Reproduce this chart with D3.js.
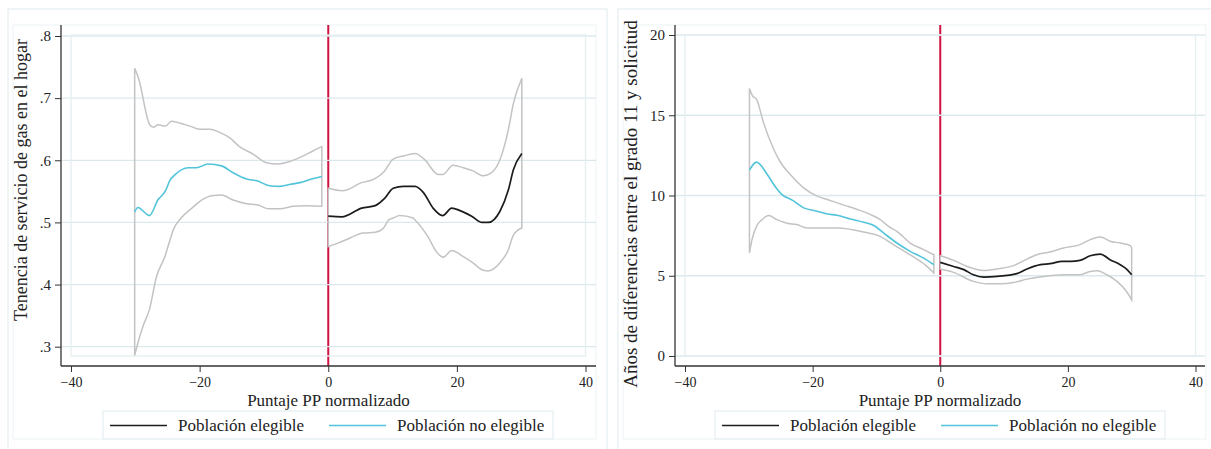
<!DOCTYPE html>
<html><head><meta charset="utf-8">
<script src="https://cdn.jsdelivr.net/npm/d3@7"></script>
<style>body{margin:0;background:#fff}svg{display:block}text{font-family:"Liberation Serif",serif;fill:#222}</style>
</head><body>
<svg id="c" width="1211" height="449"></svg>
<script>
// ---------- DATA ----------
const xTicks = [-40, -20, 0, 20, 40];
const gasTicks = [0.3, 0.4, 0.5, 0.6, 0.7, 0.8];
const gasTickLabels = [".3", ".4", ".5", ".6", ".7", ".8"];
const yrsTicks = [0, 5, 10, 15, 20];
const yrsTickLabels = ["0", "5", "10", "15", "20"];
const seriesNames = ["Población elegible", "Población no elegible"];
const gasTitle = "Tenencia de servicio de gas en el hogar";
const yrsTitle = "Años de diferencias entre el grado 11 y solicitud";
const xTitle = "Puntaje PP normalizado";

// Panel 1: gas service
const gasNoElegFit = [[-30.1,.517],[-29.6,.524],[-27.8,.511],[-26.5,.536],[-25.3,.551],[-24.6,.568],[-23.9,.576],[-21.8,.588],[-20.5,.588],[-18.7,.594],[-16.6,.591],[-14.8,.580],[-12.7,.570],[-11.1,.567],[-9.1,.559],[-7.5,.558],[-6.0,.561],[-4.4,.564],[-2.6,.570],[-1.0,.574]];
const gasNoElegHi = [[-30.1,.748],[-29.5,.732],[-27.8,.658],[-27.2,.653],[-26.5,.657],[-25.3,.655],[-24.4,.663],[-23.1,.660],[-21.5,.655],[-20.0,.650],[-18.4,.650],[-16.9,.645],[-15.3,.636],[-13.8,.622],[-11.7,.610],[-9.6,.596],[-7.8,.594],[-6.0,.598],[-3.9,.607],[-2.4,.615],[-1.0,.622]];
const gasNoElegLo = [[-30.1,.286],[-29.6,.306],[-28.8,.333],[-27.8,.360],[-26.7,.413],[-25.4,.445],[-24.6,.472],[-24.1,.488],[-22.8,.508],[-21.2,.523],[-19.7,.536],[-18.1,.543],[-16.6,.544],[-14.8,.536],[-12.7,.530],[-10.9,.528],[-9.3,.522],[-7.5,.522],[-5.5,.526],[-3.4,.527],[-1.0,.526]];
const gasElegFit = [[0,.510],[2.1,.509],[5.2,.523],[7.3,.527],[8.8,.539],[10.1,.555],[11.7,.558],[13.5,.558],[14.8,.548],[16.3,.523],[17.8,.511],[19.2,.523],[20.5,.519],[22.3,.510],[23.9,.500],[24.9,.500],[26.7,.518],[28.0,.552],[28.8,.585],[30.1,.611]];
const gasElegHi = [[0,.555],[2.2,.551],[5.2,.564],[7.2,.570],[8.7,.582],[10.1,.602],[11.7,.607],[13.5,.611],[15.0,.601],[17.1,.577],[17.8,.577],[19.4,.592],[21.0,.588],[22.5,.583],[24.1,.575],[25.1,.578],[26.7,.601],[28.0,.649],[28.8,.692],[30.1,.732]];
const gasElegLo = [[0,.461],[1.6,.467],[3.4,.475],[5.4,.483],[7.3,.484],[8.6,.491],[9.4,.504],[10.1,.507],[11.1,.511],[13.2,.507],[13.5,.504],[15.5,.477],[16.8,.453],[17.9,.444],[19.2,.455],[21.0,.445],[22.5,.435],[24.1,.423],[24.9,.422],[26.7,.435],[28.0,.456],[28.8,.480],[30.1,.491]];

// Panel 2: years between grade 11 and application
const yrsNoElegFit = [[-29.9,11.58],[-28.8,12.08],[-27.1,11.31],[-26.1,10.69],[-24.8,10.06],[-23.2,9.71],[-21.4,9.23],[-19.3,9.02],[-17.7,8.85],[-16.2,8.77],[-14.1,8.54],[-12.0,8.33],[-10.4,8.13],[-8.9,7.67],[-6.8,7.04],[-4.7,6.52],[-2.6,6.10],[-1.0,5.69]];
const yrsNoElegHi = [[-29.9,16.67],[-29.4,16.2],[-28.8,16.0],[-27.7,14.54],[-26.1,12.88],[-25.0,12.04],[-23.5,11.31],[-21.4,10.48],[-19.3,9.96],[-17.7,9.75],[-15.1,9.40],[-13.0,9.13],[-10.9,8.81],[-9.4,8.50],[-8.1,8.08],[-6.8,7.77],[-4.7,7.04],[-2.6,6.63],[-1.0,6.31]];
const yrsNoElegLo = [[-29.9,6.42],[-29.5,7.25],[-28.7,8.15],[-27.9,8.5],[-26.9,8.75],[-25.6,8.5],[-24.0,8.27],[-22.5,8.19],[-20.9,7.98],[-16.0,7.98],[-11.8,7.71],[-9.7,7.5],[-7.1,6.88],[-4.5,6.25],[-2.4,5.69],[-1.0,5.17]];
const yrsElegFit = [[0,5.83],[2.1,5.58],[3.7,5.38],[5.2,5.06],[6.8,4.92],[8.9,4.96],[12.0,5.13],[13.6,5.42],[15.7,5.69],[17.2,5.75],[19.1,5.90],[20.4,5.90],[21.9,5.96],[23.5,6.25],[25.1,6.35],[26.6,6.0],[28.2,5.69],[29.2,5.42],[30.0,5.06]];
const yrsElegHi = [[0,6.25],[2.1,5.96],[4.2,5.58],[6.8,5.33],[8.9,5.42],[11.5,5.63],[13.6,6.04],[15.1,6.31],[17.2,6.48],[19.3,6.73],[21.9,6.94],[23.5,7.25],[25.1,7.42],[26.6,7.15],[28.2,7.04],[29.8,6.88],[30.0,6.73]];
const yrsElegLo = [[0,5.42],[2.1,5.21],[5.2,4.65],[7.3,4.5],[9.4,4.5],[11.5,4.58],[13.6,4.79],[16.2,4.96],[19.3,5.06],[21.9,5.06],[23.5,5.27],[24.6,5.31],[26.1,5.06],[27.7,4.65],[29.2,4.02],[30.0,3.5]];

// ---------- STYLE ----------
const C = {black:"#1c1c1c", cyan:"#52c4da", gray:"#c3c3c3", red:"#cf1444", grid:"#dce9ec", frame:"#e5eef0", axis:"#333"};
const svg = d3.select("#c");

function panel(o) {
  const g = svg.append("g");
  g.append("rect").attr("x", o.outer[0]).attr("y", o.outer[1]).attr("width", o.outer[2]-o.outer[0]).attr("height", o.outer[3]-o.outer[1])
    .attr("fill","none").attr("stroke", C.frame).attr("stroke-width",1.2);
  g.append("rect").attr("x", o.inner[0]).attr("y", o.inner[1]).attr("width", o.inner[2]-o.inner[0]).attr("height", o.inner[3]-o.inner[1])
    .attr("fill","none").attr("stroke", "#edf3f4").attr("stroke-width",1);

  const x = d3.scaleLinear().domain([-40, 40]).range(o.xRange);
  const y = d3.scaleLinear().domain(o.yDomain).range(o.yRange);

  g.append("line").attr("x1", x(0)).attr("x2", x(0)).attr("y1", o.axisTop).attr("y2", o.axisY)
    .attr("stroke", C.red).attr("stroke-width", 2);

  const line = d3.line().x(d => x(d[0])).y(d => y(d[1])).curve(d3.curveMonotoneX);
  function band(hi, lo) {
    const a = line(hi);
    const b = line(lo.slice().reverse());
    return a + "L" + b.slice(1) + "Z";
  }
  o.bands.forEach(bd => {
    g.append("path").attr("d", band(bd[0], bd[1])).attr("fill", "#fff").attr("stroke", "none");
  });

  o.yTicks.forEach(t => {
    g.append("line").attr("x1", o.axisX).attr("x2", o.axisRight).attr("y1", y(t)).attr("y2", y(t))
      .attr("stroke", C.grid).attr("stroke-width", 1.3);
  });
  g.append("rect").attr("x", x(-40)).attr("y", o.frameTop).attr("width", x(40)-x(-40)).attr("height", o.frameBottom-o.frameTop)
    .attr("fill","none").attr("stroke", C.frame).attr("stroke-width", 1.3);

  o.bands.forEach(bd => {
    g.append("path").attr("d", band(bd[0], bd[1])).attr("fill", "none").attr("stroke", C.gray).attr("stroke-width", 1.5);
  });
  g.append("path").attr("d", line(o.noEleg)).attr("fill","none").attr("stroke", C.cyan).attr("stroke-width", 1.6);
  g.append("path").attr("d", line(o.eleg)).attr("fill","none").attr("stroke", C.black).attr("stroke-width", 1.7);

  const ya = d3.axisLeft(y).tickValues(o.yTicks).tickFormat((d,i) => o.yLabels[i]).tickSize(6).tickSizeOuter(0);
  const yg = g.append("g").attr("transform", `translate(${o.axisX},0)`).call(ya);
  yg.select(".domain").remove();
  yg.append("line").attr("x1",0).attr("x2",0).attr("y1",o.axisTop).attr("y2",o.axisY).attr("stroke",C.axis).attr("stroke-width",1.3);
  yg.selectAll(".tick line").attr("stroke", C.axis);
  yg.selectAll(".tick text").attr("x", -10).attr("font-size", 15).attr("font-family","Liberation Serif").attr("fill","#222");

  const xa = d3.axisBottom(x).tickValues(xTicks).tickSize(6).tickSizeOuter(0);
  const xg = g.append("g").attr("transform", `translate(0,${o.axisY})`).call(xa);
  xg.select(".domain").remove();
  xg.append("line").attr("x1",o.axisX).attr("x2",o.axisRight).attr("y1",0).attr("y2",0).attr("stroke",C.axis).attr("stroke-width",1.3);
  xg.selectAll(".tick line").attr("stroke", C.axis);
  xg.selectAll(".tick text").attr("y", 11).attr("font-size", 14).attr("font-family","Liberation Serif").attr("fill","#222");

  g.append("text").attr("x", (o.axisX+o.axisRight)/2).attr("y", 406).attr("text-anchor","middle").attr("font-size", 17).text(xTitle);
  g.append("text").attr("transform", `translate(${o.yTitleX},${o.yTitleY}) rotate(-90)`).attr("text-anchor","middle")
    .attr("font-size", o.yTitleSize).text(o.yTitle);

  const L = o.legend;
  g.append("rect").attr("x", L[0]).attr("y", 411).attr("width", 450).attr("height", 28).attr("fill","none").attr("stroke", C.frame).attr("stroke-width",1.2);
  const items = [{c:C.black, t:seriesNames[0], dx:7}, {c:C.cyan, t:seriesNames[1], dx:226}];
  items.forEach(it => {
    g.append("line").attr("x1", L[0]+it.dx).attr("x2", L[0]+it.dx+57).attr("y1", 425.5).attr("y2", 425.5).attr("stroke", it.c).attr("stroke-width", 1.6);
    g.append("text").attr("x", L[0]+it.dx+68).attr("y", 431).attr("font-size", 17).text(it.t);
  });
}

panel({
  outer:[8,9,607,455], inner:[13,25,596,439],
  xRange:[71,585.5], yDomain:[0.3,0.8], yRange:[346.7,36],
  axisX:61, axisRight:596, axisTop:25, axisY:366, frameTop:35, frameBottom:356,
  yTicks:gasTicks, yLabels:gasTickLabels,
  bands:[[gasNoElegHi, gasNoElegLo],[gasElegHi, gasElegLo]],
  noEleg:gasNoElegFit, eleg:gasElegFit,
  yTitle:gasTitle, yTitleX:27, yTitleY:180, yTitleSize:18,
  legend:[103]
});
panel({
  outer:[618,9,1215,455], inner:[623,25,1206,439],
  xRange:[685,1195.5], yDomain:[0,20], yRange:[356,35],
  axisX:675, axisRight:1205, axisTop:25, axisY:366, frameTop:35, frameBottom:356,
  yTicks:yrsTicks, yLabels:yrsTickLabels,
  bands:[[yrsNoElegHi, yrsNoElegLo],[yrsElegHi, yrsElegLo]],
  noEleg:yrsNoElegFit, eleg:yrsElegFit,
  yTitle:yrsTitle, yTitleX:637, yTitleY:204, yTitleSize:19,
  legend:[715]
});
</script>
</body></html>
